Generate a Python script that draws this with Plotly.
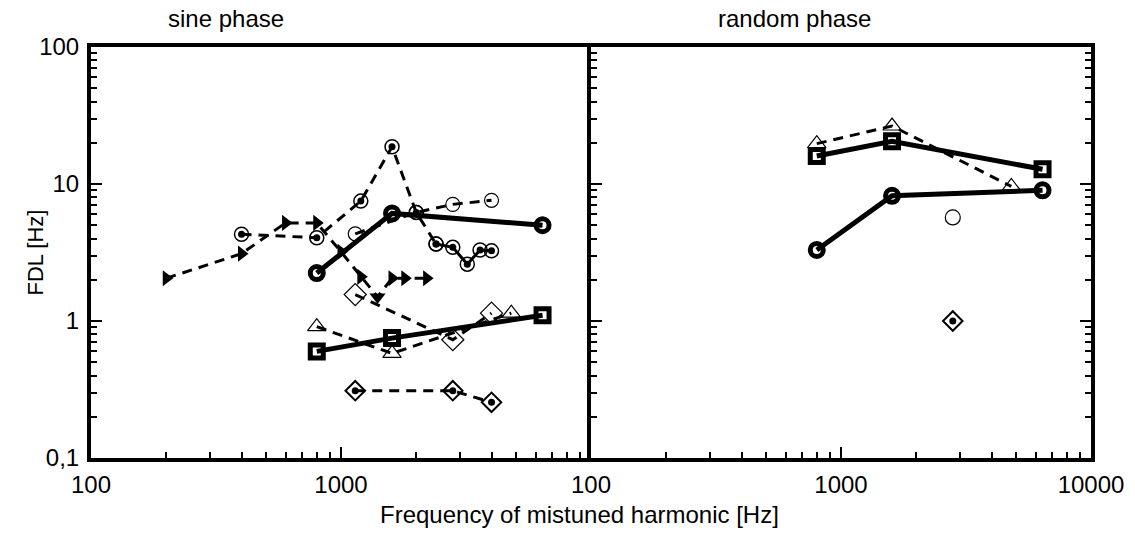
import plotly.graph_objects as go

# ---------------- data: sine phase (left panel) ----------------
a_freq = [200, 400, 600, 800, 1000, 1200, 1400, 1600, 1800, 2200]
a_fdl = [2.05, 3.1, 5.2, 5.2, 3.2, 2.1, 1.5, 2.05, 2.05, 2.05]

b_freq = [400, 800, 1200, 1600, 2000, 2400]
b_fdl = [4.3, 4.05, 7.5, 18.7, 6.2, 3.65]

b2_freq = [2400, 2800, 3200, 3600, 4000]
b2_fdl = [3.65, 3.45, 2.6, 3.3, 3.25]

c_freq = [1140, 2000, 2800, 4000]
c_fdl = [4.33, 6.2, 7.1, 7.6]

d_freq = [800, 1600, 6400]
d_fdl = [2.24, 6.1, 5.0]

e_freq = [800, 1600, 6400]
e_fdl = [0.6, 0.75, 1.1]

f_freq = [800, 1600, 4800]
f_fdl = [0.91, 0.58, 1.14]

g_freq = [1140, 2800, 4000]
g_fdl = [1.56, 0.73, 1.14]

h_freq = [1140, 2800, 4000]
h_fdl = [0.31, 0.31, 0.255]

# ---------------- data: random phase (right panel) ----------------
rs_freq = [800, 1600, 6400]
rs_fdl = [16.0, 20.5, 12.8]

rc_freq = [800, 1600, 6400]
rc_fdl = [3.3, 8.2, 9.0]

rt_freq = [800, 1600, 4800]
rt_fdl = [19.7, 26.5, 9.6]

ro_freq = [2800]
ro_fdl = [5.7]

rd_freq = [2800]
rd_fdl = [1.0]

x_ticks_left = [100, 1000]
x_ticks_right = [100, 1000, 10000]
x_labels_left = ["100", "1000"]
x_labels_right = ["100", "1000", "10000"]
y_ticks = [0.1, 1, 10, 100]
y_labels = ["0,1", "1", "10", "100"]

# ---------------- styles ----------------
K = "black"
DASH = "10px,7px"
a_symbols = ["triangle-right", "triangle-right", "triangle-right", "triangle-right",
             "triangle-right", "triangle-right", "triangle-down", "triangle-right",
             "triangle-right", "triangle-right"]

fig = go.Figure()


def add(x, y, xa, ya, dash, lw, symbol, size, mlw, mode="lines+markers"):
    fig.add_trace(go.Scatter(
        x=x, y=y, xaxis=xa, yaxis=ya, mode=mode,
        line=dict(color=K, width=lw, dash=dash),
        marker=dict(symbol=symbol, size=size, color=K, line=dict(color=K, width=mlw)),
        showlegend=False, cliponaxis=False,
    ))


def dots(x, y, xa, ya, size):
    fig.add_trace(go.Scatter(
        x=x, y=y, xaxis=xa, yaxis=ya, mode="markers",
        marker=dict(symbol="circle", size=size, color=K, line=dict(width=0)),
        showlegend=False, cliponaxis=False,
    ))


# left panel
add(a_freq, a_fdl, "x", "y", DASH, 3, a_symbols, 14, 0)
add(b_freq, b_fdl, "x", "y", DASH, 3, "circle-open", 14, 1.5)
add(b2_freq, b2_fdl, "x", "y", "solid", 3, "circle-open", 14, 1.5)
dots(b_freq, b_fdl, "x", "y", 7)
dots(b2_freq, b2_fdl, "x", "y", 7)
add(c_freq, c_fdl, "x", "y", DASH, 3, "circle-open", 14, 1.2)
add(f_freq, f_fdl, "x", "y", DASH, 3, "triangle-up-open", 16, 1.2)
add(g_freq, g_fdl, "x", "y", DASH, 3, "diamond-open", 17, 1.2)
add(h_freq, h_fdl, "x", "y", DASH, 3, "diamond-open", 15, 2)
dots(h_freq, h_fdl, "x", "y", 7)
add(d_freq, d_fdl, "x", "y", "solid", 5, "circle-open", 13, 5)
add(e_freq, e_fdl, "x", "y", "solid", 5, "square-open", 13, 5)

# right panel
add(rt_freq, rt_fdl, "x2", "y2", DASH, 3, "triangle-up-open", 16, 1.2)
add(rs_freq, rs_fdl, "x2", "y2", "solid", 5, "square-open", 13, 5)
add(rc_freq, rc_fdl, "x2", "y2", "solid", 5, "circle-open", 13, 5)
add(ro_freq, ro_fdl, "x2", "y2", "solid", 1, "circle-open", 15, 1.2, mode="markers")
add(rd_freq, rd_fdl, "x2", "y2", "solid", 1, "diamond-open", 15, 2, mode="markers")
dots(rd_freq, rd_fdl, "x2", "y2", 7)

FONT = "Liberation Sans, Arial, sans-serif"
minor = dict(ticks="inside", ticklen=6, tickwidth=2, tickcolor=K, dtick="D1", showgrid=False)

xcommon = dict(type="log", range=[2, 4], showline=True, linewidth=4, linecolor=K, mirror=True,
               ticks="inside", ticklen=11, tickwidth=2, tickcolor=K, showgrid=False,
               zeroline=False, minor=minor, tickfont=dict(family=FONT, size=24, color=K),
               ticklabelstandoff=2)
ycommon = dict(type="log", range=[-1, 2], showline=True, linewidth=4, linecolor=K,
               ticks="inside", ticklen=11, tickwidth=2, tickcolor=K, showgrid=False,
               zeroline=False, minor=minor, tickfont=dict(family=FONT, size=24, color=K),
               tickvals=y_ticks, ticktext=y_labels, ticklabelstandoff=3)

fig.update_layout(
    width=1135, height=547,
    margin=dict(l=91, r=44, t=47, b=89),
    paper_bgcolor="white", plot_bgcolor="white",
    xaxis=dict(xcommon, domain=[0, 0.5], anchor="y", tickvals=x_ticks_left, ticktext=x_labels_left),
    xaxis2=dict(xcommon, domain=[0.5, 1], anchor="y2", tickvals=x_ticks_right, ticktext=x_labels_right),
    yaxis=dict(ycommon, anchor="x", mirror=False),
    yaxis2=dict(ycommon, anchor="x2", mirror="ticks", showticklabels=False),
    annotations=[
        dict(text="sine phase", x=0.135, y=1.07, xref="paper", yref="paper", showarrow=False,
             xanchor="center", yanchor="middle", font=dict(family=FONT, size=24, color=K)),
        dict(text="random phase", x=0.703, y=1.07, xref="paper", yref="paper", showarrow=False,
             xanchor="center", yanchor="middle", font=dict(family=FONT, size=24, color=K)),
        dict(text="Frequency of mistuned harmonic [Hz]", x=0.488, y=-0.138, xref="paper", yref="paper",
             showarrow=False, xanchor="center", yanchor="middle", font=dict(family=FONT, size=24, color=K)),
        dict(text="FDL [Hz]", x=-0.056, y=0.50, xref="paper", yref="paper", showarrow=False,
             textangle=-90, xanchor="center", yanchor="middle", font=dict(family=FONT, size=22, color=K)),
    ],
)

fig.write_html("out.html")
